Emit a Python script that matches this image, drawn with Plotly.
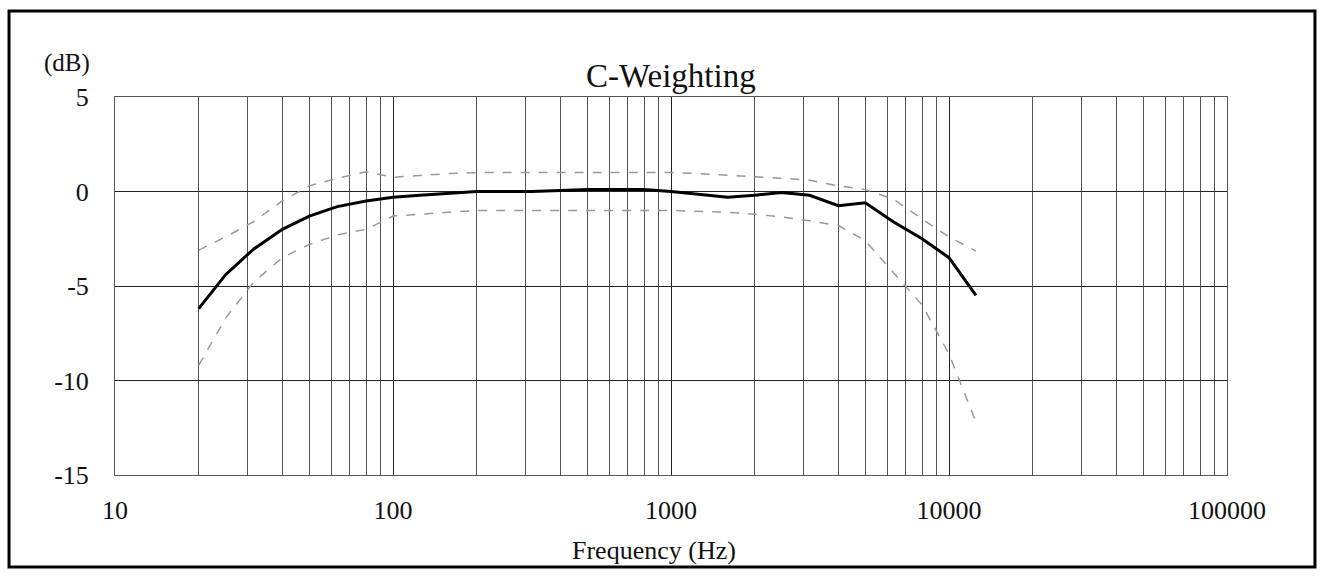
import plotly.graph_objects as go

# ---- data ----
freqs = [20, 25, 31.5, 40, 50, 63, 80, 100, 125, 160, 200, 250, 315, 400, 500,
         630, 800, 1000, 1250, 1600, 2000, 2500, 3150, 4000, 5000, 6300, 8000,
         10000, 12500]
measured = [-6.2, -4.4, -3.05, -2.0, -1.3, -0.8, -0.5, -0.3, -0.2, -0.1, 0.0, 0.0,
            0.0, 0.05, 0.1, 0.1, 0.1, 0.0, -0.15, -0.3, -0.2, -0.05, -0.2, -0.75,
            -0.6, -1.6, -2.5, -3.5, -5.5]
upper_tol = [-3.1, -2.4, -1.6, -0.5, 0.3, 0.7, 1.05, 0.75, 0.85, 0.95, 1.0, 1.0,
             1.0, 1.0, 1.0, 1.0, 1.0, 1.0, 0.95, 0.87, 0.8, 0.7, 0.6, 0.3, 0.1,
             -0.4, -1.45, -2.4, -3.15]
lower_tol = [-9.2, -6.7, -4.8, -3.5, -2.8, -2.3, -2.0, -1.3, -1.2, -1.1, -1.0, -1.0,
             -1.0, -1.0, -1.0, -1.0, -1.0, -1.0, -1.05, -1.1, -1.2, -1.35, -1.55,
             -1.8, -2.6, -4.3, -6.0, -8.6, -12.2]

x_tick_vals = [10, 100, 1000, 10000, 100000]
x_tick_text = ["10", "100", "1000", "10000", "100000"]
y_tick_vals = [5, 0, -5, -10, -15]
y_tick_text = ["5", "0", "-5", "-10", "-15"]

title_text = "C-Weighting"
y_unit_text = "(dB)"
x_title_text = "Frequency (Hz)"

FONT = "Liberation Serif"

fig = go.Figure()
fig.add_trace(go.Scatter(x=freqs, y=upper_tol, mode="lines",
                         line=dict(color="#999999", width=1.5, dash="dash"),
                         showlegend=False))
fig.add_trace(go.Scatter(x=freqs, y=lower_tol, mode="lines",
                         line=dict(color="#999999", width=1.5, dash="dash"),
                         showlegend=False))
fig.add_trace(go.Scatter(x=freqs, y=measured, mode="lines",
                         line=dict(color="#000000", width=3),
                         showlegend=False))

fig.update_layout(
    width=1321, height=581,
    margin=dict(l=115, r=94, t=97, b=106),
    paper_bgcolor="white", plot_bgcolor="white",
    font=dict(family=FONT, size=26, color="#111"),
    showlegend=False,
)

fig.update_xaxes(
    type="log", range=[1, 5],
    tickvals=x_tick_vals, ticktext=x_tick_text,
    showgrid=True, gridcolor="#222", gridwidth=1,
    minor=dict(dtick="D1", showgrid=True, gridcolor="#555", gridwidth=1, ticks=""),
    ticks="", ticklabelstandoff=12,
    showline=True, mirror=True, linecolor="#555", linewidth=1,
    zeroline=False,
    tickfont=dict(family=FONT, size=26, color="#111"),
)
fig.update_yaxes(
    range=[-15, 5],
    tickvals=y_tick_vals, ticktext=y_tick_text,
    showgrid=True, gridcolor="#222", gridwidth=1,
    ticks="", ticklabelstandoff=20,
    showline=True, mirror=True, linecolor="#555", linewidth=1,
    zeroline=False,
    tickfont=dict(family=FONT, size=26, color="#111"),
)

fig.add_annotation(text=title_text, xref="paper", yref="paper", x=0.5, y=1.055,
                   xanchor="center", yanchor="middle", showarrow=False,
                   font=dict(family=FONT, size=33, color="#111"))
fig.add_annotation(text=y_unit_text, xref="paper", yref="paper", x=-0.043, y=1.09,
                   xanchor="center", yanchor="middle", showarrow=False,
                   font=dict(family=FONT, size=25, color="#111"))
fig.add_annotation(text=x_title_text, xref="paper", yref="paper", x=0.4847, y=-0.200,
                   xanchor="center", yanchor="middle", showarrow=False,
                   font=dict(family=FONT, size=26, color="#111"))

# outer frame around the whole chart
fig.add_shape(type="rect", xref="paper", yref="paper",
              x0=-0.0953, x1=1.0791, y0=-0.2434, y1=1.2275,
              line=dict(color="black", width=3), fillcolor="rgba(0,0,0,0)",
              layer="above")

fig.write_html("out.html", config={"displayModeBar": False})

# remove the browser's default body margin so the figure sits at (0, 0)
with open("out.html", "r", encoding="utf-8") as f:
    html = f.read()
html = html.replace("<head>", "<head><style>html,body{margin:0;padding:0;overflow:hidden;}</style>", 1)
with open("out.html", "w", encoding="utf-8") as f:
    f.write(html)
